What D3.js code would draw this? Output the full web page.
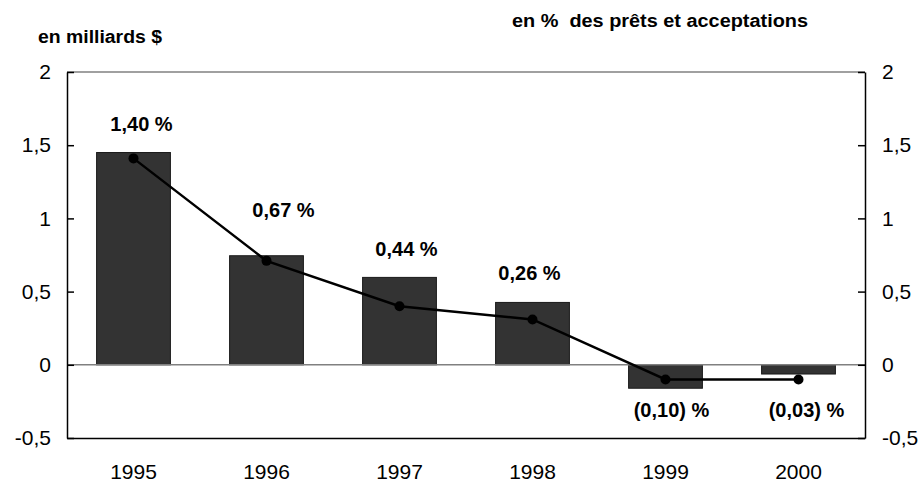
<!DOCTYPE html>
<html>
<head>
<meta charset="utf-8">
<script src="https://cdn.jsdelivr.net/npm/d3@7"></script>
<style>
  body { margin: 0; background: #fff; }
  text { font-family: Arial, "Liberation Sans", sans-serif; }
</style>
</head>
<body>
<div id="chart"></div>
<script>
var width = 924,
    height = 483;

var years = ["1995", "1996", "1997", "1998", "1999", "2000"];
var barValues = [1.45, 0.745, 0.597, 0.426, -0.16, -0.063];   // en milliards $
var lineValues = [1.41, 0.71, 0.40, 0.31, -0.10, -0.10];     // point positions, right axis
var labelText = ["1,40 %", "0,67 %", "0,44 %", "0,26 %", "(0,10) %", "(0,03) %"];
var labelAt = [1.60, 1.01, 0.746, 0.579, -0.355, -0.355];    // label baseline, right axis
var tickValues = [-0.5, 0, 0.5, 1, 1.5, 2];
var tickLabels = ["-0,5", "0", "0,5", "1", "1,5", "2"];

// small horizontal nudges of the data labels (px), as placed in the original
var labelNudge = [8, 17, 7, -3, 6, 8];

var plotL = 67, plotR = 865, plotT = 72, plotB = 438;

var svg = d3.select("#chart").append("svg")
    .attr("width", width)
    .attr("height", height)

var x = d3.scaleBand()
    .domain(years)
    .range([plotL, plotR])
    .paddingInner(0.445)
    .paddingOuter(0.2225);

var y = d3.scaleLinear().domain([-0.5, 2]).range([plotB, plotT]);
var y2 = d3.scaleLinear().domain([-0.5, 2]).range([plotB, plotT]);

// top border
svg.append("line")
  .attr("x1", plotL).attr("x2", plotR)
  .attr("y1", plotT).attr("y2", plotT)
  .attr("stroke", "#808080").attr("stroke-width", 1.5);

// bars
svg.selectAll(".bar")
  .data(years)
  .enter().append("rect")
  .attr("class", "bar")
  .attr("x", function(d) { return x(d); })
  .attr("width", x.bandwidth())
  .attr("y", function(d, i) { return y(Math.max(0, barValues[i])); })
  .attr("height", function(d, i) { return Math.abs(y(barValues[i]) - y(0)); })
  .attr("fill", "#333333")
  .attr("stroke", "#1a1a1a")
  .attr("stroke-width", 1);

// zero line
svg.append("line")
  .attr("x1", plotL).attr("x2", plotR)
  .attr("y1", y(0)).attr("y2", y(0))
  .attr("stroke", "#808080").attr("stroke-width", 1.5);

// left axis
var leftAxis = d3.axisLeft(y)
  .tickValues(tickValues)
  .tickFormat(function(d, i) { return tickLabels[i]; })
  .tickSizeInner(-7)
  .tickSizeOuter(0)
  .tickPadding(16);
var gl = svg.append("g").attr("transform", "translate(" + plotL + ",0)").call(leftAxis);

// right axis
var rightAxis = d3.axisRight(y2)
  .tickValues(tickValues)
  .tickFormat(function(d, i) { return tickLabels[i]; })
  .tickSizeInner(-7)
  .tickSizeOuter(0)
  .tickPadding(17);
var gr = svg.append("g").attr("transform", "translate(" + plotR + ",0)").call(rightAxis);

[gl, gr].forEach(function(g) {
  g.select(".domain").attr("stroke", "#000").attr("stroke-width", 1.5);
  g.selectAll(".tick line").attr("stroke", "#000").attr("stroke-width", 1.5);
  g.selectAll(".tick text")
    .attr("font-size", 21)
    .attr("fill", "#000")
    .style("font-family", "Arial, 'Liberation Sans', sans-serif");
});

// bottom axis
var bottomAxis = d3.axisBottom(x).tickSize(0).tickPadding(26);
var gb = svg.append("g").attr("transform", "translate(0," + plotB + ")").call(bottomAxis);
gb.select(".domain").attr("stroke", "#000").attr("stroke-width", 1.5);
gb.selectAll(".tick text")
  .attr("font-size", 21)
  .attr("fill", "#000")
  .style("font-family", "Arial, 'Liberation Sans', sans-serif");

// line
var cx = function(d, i) { return x(years[i]) + x.bandwidth() / 2; };
var line = d3.line()
  .x(function(d, i) { return cx(d, i); })
  .y(function(d) { return y2(d); });

svg.append("path")
  .datum(lineValues)
  .attr("d", line)
  .attr("fill", "none")
  .attr("stroke", "#000")
  .attr("stroke-width", 2.5);

svg.selectAll(".pt")
  .data(lineValues)
  .enter().append("circle")
  .attr("class", "pt")
  .attr("cx", cx)
  .attr("cy", function(d) { return y2(d); })
  .attr("r", 5)
  .attr("fill", "#000");

// data labels
svg.selectAll(".lbl")
  .data(labelText)
  .enter().append("text")
  .attr("class", "lbl")
  .attr("x", function(d, i) { return cx(d, i) + labelNudge[i]; })
  .attr("y", function(d, i) { return y2(labelAt[i]); })
  .attr("text-anchor", "middle")
  .attr("font-size", 20)
  .attr("font-weight", "bold")
  .text(function(d) { return d; });

// axis titles
svg.append("text")
  .attr("x", 38).attr("y", 43)
  .attr("font-size", 18)
  .attr("font-weight", "bold")
  .attr("textLength", 124)
  .attr("lengthAdjust", "spacingAndGlyphs")
  .text("en milliards $");

svg.append("text")
  .attr("x", 512).attr("y", 27)
  .attr("font-size", 18)
  .attr("font-weight", "bold")
  .attr("textLength", 296)
  .attr("lengthAdjust", "spacingAndGlyphs")
  .style("white-space", "pre")
  .text("en %  des prêts et acceptations");
</script>
</body>
</html>
